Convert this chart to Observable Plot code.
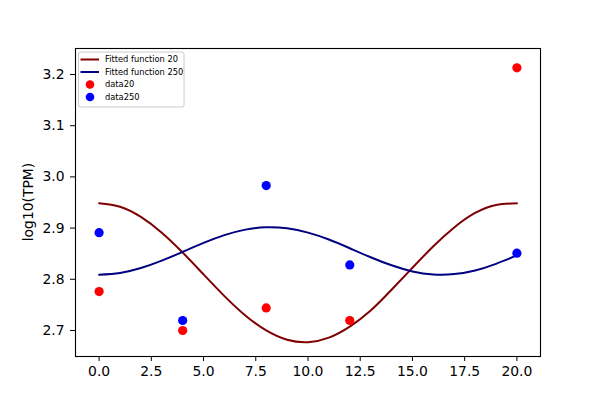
<!DOCTYPE html>
<html><head><meta charset="utf-8">
<script src="https://cdn.jsdelivr.net/npm/d3@7"></script>
<script src="https://cdn.jsdelivr.net/npm/@observablehq/plot@0.6"></script>
<style>body{margin:0;background:#fff}</style>
</head><body><div id="chart"></div>
<script>
// Fitted curves at integer x
const fitX = [0,1,2,3,4,5,6,7,8,9,10,11,12,13,14,15,16,17,18,19,20];
const fit20 = [2.9486,2.9418,2.9219,2.8911,2.8523,2.8096,2.7672,2.7294,2.7001,2.6819,2.6772,2.6861,2.7077,2.7390,2.7796,2.8225,2.8645,2.9013,2.9295,2.9452,2.9483];
const fit250 = [2.8090,2.8124,2.8220,2.8364,2.8536,2.8711,2.8862,2.8970,2.9017,2.8996,2.8912,2.8777,2.8607,2.8431,2.8273,2.8154,2.8095,2.8102,2.8173,2.8302,2.8466];
// Measured data
const dataX = [0,4,8,12,20];
const data20 = [2.776,2.700,2.744,2.7195,3.213];
const data250 = [2.891,2.7195,2.983,2.828,2.851];
// Ticks and labels
const xTicks = [0,2.5,5,7.5,10,12.5,15,17.5,20];
const yTicks = [2.7,2.8,2.9,3.0,3.1,3.2];
const yLabel = "log10(TPM)";
const legendNames = ["Fitted function 20","Fitted function 250","data20","data250"];
const colors = {fit20:"#800000", fit250:"#000080", data20:"#ff0000", data250:"#0000ff"};

const lineRows = (ys, name) => fitX.map((x,i)=>({x, y: ys[i], name}));
const dotRows = (ys, name) => dataX.map((x,i)=>({x, y: ys[i], name}));

const chart = Plot.plot({
  width: 600, height: 400,
  marginLeft: 75, marginRight: 60, marginTop: 48, marginBottom: 44,
  style: {fontFamily: "DejaVu Sans", fontSize: "13.9px", color: "black", background: "white"},
  x: {domain: [-1.13, 21.13], ticks: xTicks, tickFormat: d3.format(".1f"), tickSize: 5, tickPadding: 5, label: null},
  y: {domain: [2.6492, 3.2508], ticks: yTicks, tickFormat: d3.format(".1f"), tickSize: 5, tickPadding: 6, label: null},
  marks: [
    Plot.line(lineRows(fit20, legendNames[0]), {x:"x", y:"y", stroke: colors.fit20, strokeWidth: 2, curve: "natural"}),
    Plot.line(lineRows(fit250, legendNames[1]), {x:"x", y:"y", stroke: colors.fit250, strokeWidth: 2, curve: "natural"}),
    Plot.dot(dotRows(data20, legendNames[2]), {x:"x", y:"y", fill: colors.data20, r: 4.6}),
    Plot.dot(dotRows(data250, legendNames[3]), {x:"x", y:"y", fill: colors.data250, r: 4.6}),
    Plot.frame({stroke: "black", strokeWidth: 1.1})
  ]
});
document.getElementById("chart").appendChild(chart);

const svg = d3.select(chart);
svg.append("text")
  .attr("transform", "translate(33,202) rotate(-90)")
  .attr("text-anchor", "middle")
  .attr("font-family", "DejaVu Sans")
  .attr("font-size", 13.9)
  .attr("fill", "black")
  .text(yLabel);

const lg = svg.append("g").attr("font-family", "DejaVu Sans").attr("font-size", 8.3).attr("text-anchor", "start");
lg.append("rect").attr("x", 78.5).attr("y", 52).attr("width", 105.5).attr("height", 55)
  .attr("rx", 2).attr("fill", "white").attr("fill-opacity", 0.8).attr("stroke", "#cccccc").attr("stroke-width", 1);
const rowY = [59.5, 72, 84.5, 97];
const rowColor = [colors.fit20, colors.fit250, colors.data20, colors.data250];
legendNames.forEach((name, i) => {
  if (i < 2) {
    lg.append("line").attr("x1", 80.5).attr("x2", 99).attr("y1", rowY[i]).attr("y2", rowY[i])
      .attr("stroke", rowColor[i]).attr("stroke-width", 2);
  } else {
    lg.append("circle").attr("cx", 90).attr("cy", rowY[i]).attr("r", 4.3).attr("fill", rowColor[i]);
  }
  lg.append("text").attr("x", 105).attr("y", rowY[i]).attr("dy", "0.35em").attr("text-anchor", "start").attr("fill", "black").text(name);
});
</script>
</body></html>
